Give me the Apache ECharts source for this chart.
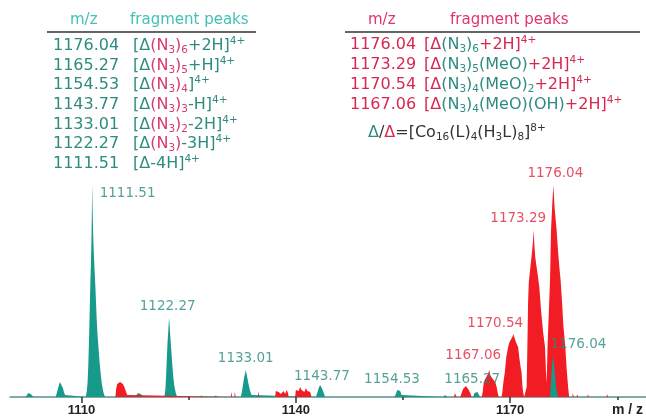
<!DOCTYPE html>
<html><head><meta charset="utf-8">
<script src="https://cdn.jsdelivr.net/npm/echarts@6/dist/echarts.min.js"></script>
<style>html,body{margin:0;padding:0;background:#fff}#c{width:646px;height:418px}</style>
</head><body><div id="c"></div>
<script>
// ---------- DATA ----------
const xTicks = [1110, 1140, 1170];
const xMinorTicks = [1125, 1155, 1185];

// teal spectrum [m/z, intensity]
const tealPeaks = [
 [1100,0],
 [1102.2,0],[1102.35,2],[1102.55,4],[1102.7,5],[1102.9,3],[1103.1,1],[1103.3,0],
 [1106.4,0],[1106.55,4],[1106.7,8],[1106.85,12],[1107.0,15],[1107.1,17],[1107.25,13],[1107.4,9],[1107.55,5],[1107.7,2],[1107.9,0],
 [1110.6,0],[1110.75,6],[1110.85,14],[1110.95,30],[1111.05,55],[1111.15,85],[1111.25,115],[1111.35,140],[1111.43,170],[1111.48,200],[1111.51,212],[1111.56,188],[1111.65,160],[1111.75,140],[1111.85,125],[1111.95,110],[1112.05,92],[1112.15,75],[1112.25,62],[1112.38,50],[1112.5,38],[1112.65,26],[1112.8,16],[1112.95,9],[1113.1,4],[1113.3,0],
 [1117.5,0],[1117.7,2],[1117.9,4],[1118.1,5],[1118.3,3],[1118.5,1],[1118.7,0],
 [1121.6,0],[1121.75,8],[1121.85,22],[1121.95,40],[1122.05,55],[1122.15,66],[1122.25,79],[1122.32,74],[1122.42,62],[1122.52,52],[1122.62,42],[1122.72,32],[1122.85,20],[1123.0,11],[1123.2,4],[1123.4,0],
 [1126.5,0],[1126.8,1.5],[1127.1,0],[1128.5,0],[1128.8,1.5],[1129.1,0],
 [1132.3,0],[1132.45,5],[1132.6,12],[1132.75,19],[1132.88,23],[1133.0,27],[1133.1,23],[1133.22,19],[1133.35,14],[1133.5,9],[1133.65,5],[1133.8,2],[1134.0,0],
 [1142.8,0],[1143.0,4],[1143.2,9],[1143.4,12],[1143.55,11],[1143.7,8],[1143.9,4],[1144.1,0],
 [1153.8,0],[1154.0,3],[1154.2,7],[1154.4,8],[1154.6,6],[1154.8,2],[1155.0,0],
 [1160.6,0],[1160.9,2],[1161.2,0],
 [1164.8,0],[1165.0,4],[1165.2,6],[1165.4,5],[1165.6,3],[1165.8,0],
 [1189,0]
];
// red spectrum
const redPeaks = [
 [1100,0],
 [1114.75,0],[1114.85,8],[1115.0,13],[1115.2,15],[1115.4,15],[1115.6,14],[1115.8,13],[1116.0,10],[1116.2,6],[1116.4,2],[1116.5,0],
 [1130.9,0],[1130.95,5],[1131.05,5],[1131.1,0],[1131.4,0],[1131.45,5],[1131.55,5],[1131.6,0],
 [1134.7,0],[1134.75,6],[1134.85,6],[1134.9,0],
 [1137.1,0],[1137.2,6],[1137.4,8],[1137.6,5],[1137.8,7],[1137.9,3],[1138.1,4],[1138.3,6],[1138.5,3],[1138.7,7],[1138.9,4],[1139.0,0],
 [1139.9,0],[1140.0,7],[1140.2,8],[1140.4,6],[1140.6,10],[1140.8,7],[1141.0,8],[1141.2,5],[1141.4,9],[1141.6,6],[1141.8,8],[1142.0,5],[1142.2,0],
 [1162.15,0],[1162.25,4],[1162.4,4],[1162.5,0],
 [1163.0,0],[1163.2,4],[1163.4,8],[1163.6,10],[1163.8,11],[1164.0,10],[1164.2,7],[1164.4,4],[1164.6,0],
 [1166.0,0],[1166.15,5],[1166.3,15],[1166.5,18],[1166.7,20],[1166.9,23],[1167.06,27],[1167.2,22],[1167.45,19],[1167.7,17],[1167.9,15],[1168.1,10],[1168.25,4],[1168.4,0],
 [1168.8,0],[1168.9,5],[1169.05,15],[1169.25,25],[1169.45,40],[1169.7,50],[1169.9,55],[1170.1,57],[1170.3,60],[1170.45,63],[1170.54,65],[1170.65,58],[1170.85,54],[1171.1,50],[1171.3,38],[1171.45,30],[1171.58,25],[1171.7,12],[1171.8,5],[1171.95,0],
 [1172.2,0],[1172.3,10],[1172.4,50],[1172.5,95],[1172.6,115],[1172.75,125],[1172.9,135],[1173.05,145],[1173.18,155],[1173.29,167],[1173.38,152],[1173.5,140],[1173.65,132],[1173.85,122],[1174.07,110],[1174.3,88],[1174.6,65],[1174.87,50],[1175.0,25],[1175.1,14],
 [1175.22,50],[1175.4,85],[1175.57,117],[1175.71,167],[1175.9,195],[1176.04,212],[1176.2,190],[1176.35,178],[1176.49,167],[1176.7,145],[1176.9,128],[1177.05,117],[1177.25,95],[1177.45,70],[1177.71,50],[1177.9,28],[1178.1,10],[1178.25,0],
 [1178.7,0],[1178.75,4],[1178.85,4],[1178.9,0],[1179.3,0],[1179.35,3],[1179.45,3],[1179.5,0],[1180.8,0],[1180.85,3],[1180.95,3],[1181.0,0],[1183.5,0],[1183.55,3],[1183.65,3],[1183.7,0],
 [1189,0]
];
// teal component visible inside the 1176.04 red envelope
const tealOverlay = [
 [1175.55,0],[1175.7,15],[1175.85,32],[1176.0,40],[1176.1,36],[1176.25,24],[1176.4,12],[1176.55,4],[1176.7,0]
];

const tealLabelText = ['1111.51','1122.27','1133.01','1143.77','1154.53','1165.27','1176.04'];
const redLabelText  = ['1167.06','1170.54','1173.29','1176.04'];

const leftMz = ['1176.04','1165.27','1154.53','1143.77','1133.01','1122.27','1111.51'];
const leftFormula = [
 [['t','[Δ'],['p','(N'],['ps','3'],['p',')'],['ps','6'],['t','+2H]'],['tu','4+']],
 [['t','[Δ'],['p','(N'],['ps','3'],['p',')'],['ps','5'],['t','+H]'],['tu','4+']],
 [['t','[Δ'],['p','(N'],['ps','3'],['p',')'],['ps','4'],['t',']'],['tu','4+']],
 [['t','[Δ'],['p','(N'],['ps','3'],['p',')'],['ps','3'],['t','-H]'],['tu','4+']],
 [['t','[Δ'],['p','(N'],['ps','3'],['p',')'],['ps','2'],['t','-2H]'],['tu','4+']],
 [['t','[Δ'],['p','(N'],['ps','3'],['p',')'],['t','-3H]'],['tu','4+']],
 [['t','[Δ-4H]'],['tu','4+']]
];
const rightMz = ['1176.04','1173.29','1170.54','1167.06'];
const rightFormula = [
 [['r','[Δ'],['g','(N'],['gs','3'],['g',')'],['gs','6'],['r','+2H]'],['ru','4+']],
 [['r','[Δ'],['g','(N'],['gs','3'],['g',')'],['gs','5'],['g','(MeO)'],['r','+2H]'],['ru','4+']],
 [['r','[Δ'],['g','(N'],['gs','3'],['g',')'],['gs','4'],['g','(MeO)'],['gs','2'],['r','+2H]'],['ru','4+']],
 [['r','[Δ'],['g','(N'],['gs','3'],['g',')'],['gs','4'],['g','(MeO)(OH)'],['r','+2H]'],['ru','4+']]
];
const compoundFormula = [['g','Δ'],['k','/'],['r','Δ'],['k','=[Co'],['ks','16'],['k','(L)'],['ks','4'],['k','(H'],['ks','3'],['k','L)'],['ks','8'],['k',']'],['ku','8+']];

// ---------- LAYOUT / STYLE ----------
const C = {
  tealFill:'#17998b', redFill:'#f21c24',
  tealLabel:'#2b8a80', redLabel:'#e0243c',
  tTeal:'#2e8b80', tTealHead:'#44c1b5', tPink:'#d63a6e',
  tRed:'#d92850', tRedHead:'#e0346a', dark:'#333'
};
const FF = '"DejaVu Sans", Verdana, sans-serif';
const tealLabelAnchor = [[1116.45,204],[1122.06,91],[1132.99,39],[1143.65,21],[1153.46,18],[1164.68,18],[1179.54,53]];
const redLabelAnchor  = [[1164.82,42],[1167.9,74],[1171.12,179],[1176.31,224]];

function mkRich(){
  const r = {};
  const add = (k,fill,size,lh,va)=>{ r[k]={fill,fontSize:size,lineHeight:lh,verticalAlign:va,fontFamily:FF}; };
  add('t',C.tTeal,16,20,'middle'); add('p',C.tPink,16,20,'middle');
  add('ps',C.tPink,10.5,14,'bottom'); add('tu',C.tTeal,10.5,13,'top');
  add('r',C.tRed,16,20,'middle'); add('g',C.tTeal,16,20,'middle');
  add('gs',C.tTeal,10.5,14,'bottom'); add('ru',C.tRed,10.5,13,'top');
  add('k',C.dark,16,20,'middle'); add('ks',C.dark,10.5,14,'bottom'); add('ku',C.dark,10.5,13,'top');
  return r;
}
const RICH = mkRich();
const segStr = segs => segs.map(s=>'{'+s[0]+'|'+s[1]+'}').join('');

const graphics = [];
function txt(x,y,text,color,size){
  graphics.push({type:'text',x,y,silent:true,style:{text,fill:color,font:`${size}px ${FF}`,verticalAlign:'middle',textAlign:'left'}});
}
function rtxt(x,y,segs){
  graphics.push({type:'text',x,y,silent:true,style:{text:segStr(segs),rich:RICH,verticalAlign:'middle',font:`16px ${FF}`}});
}
// left table
txt(70,20,'m/z',C.tTealHead,15); txt(130,20,'fragment peaks',C.tTealHead,15);
graphics.push({type:'line',silent:true,shape:{x1:47,y1:32,x2:256,y2:32},style:{stroke:'#666',lineWidth:2}});
leftMz.forEach((m,i)=>{ const y = 46 + i*19.6; txt(53,y,m,C.tTeal,16); rtxt(133,y,leftFormula[i]); });
// right table
txt(368,20,'m/z',C.tRedHead,15); txt(450,20,'fragment peaks',C.tRedHead,15);
graphics.push({type:'line',silent:true,shape:{x1:345,y1:32,x2:640,y2:32},style:{stroke:'#666',lineWidth:2}});
rightMz.forEach((m,i)=>{ const y = 45 + i*19.8; txt(350,y,m,C.tRed,16); rtxt(424,y,rightFormula[i]); });
rtxt(368,133,compoundFormula);
// axis title
graphics.push({type:'text',x:612,y:410,silent:true,style:{text:'m / z',fill:'#222',font:`bold 14px "Liberation Sans", Arial, sans-serif`,verticalAlign:'middle'}});

const chart = echarts.init(document.getElementById('c'), null, {renderer:'canvas'});
const areaSeries = (data,color,z)=>({type:'line',data,symbol:'none',z,animation:false,silent:true,
  lineStyle:{width:0,color},areaStyle:{color,opacity:1},xAxisIndex:0});
const labelSeries = (texts,anchors,color)=>({type:'scatter',symbolSize:0,z:10,animation:false,silent:true,
  data:texts.map((t,i)=>({value:anchors[i],name:t})),
  label:{show:true,position:'inside',formatter:'{b}',color,fontSize:13.5,fontFamily:FF}});

chart.setOption({
  animation:false,
  grid:{left:10,right:0,top:150,bottom:21},
  xAxis:[{
    type:'value',min:1100,max:1189,
    axisLine:{lineStyle:{color:'#5b8f8b',width:1.5}},
    axisTick:{customValues:xTicks,length:6,lineStyle:{color:'#333',width:1.5}},
    axisLabel:{customValues:xTicks,formatter:v=>String(v),color:'#222',fontWeight:'bold',fontSize:13,fontFamily:'"Liberation Sans", Arial, sans-serif',margin:7},
    splitLine:{show:false}
  },{
    type:'value',min:1100,max:1189,position:'bottom',
    axisLine:{show:false},
    axisTick:{customValues:xMinorTicks,length:3,lineStyle:{color:'#333',width:1.5}},
    axisLabel:{show:false},splitLine:{show:false}
  }],
  yAxis:{type:'value',min:0,max:247,show:false},
  series:[
    areaSeries(tealPeaks,C.tealFill,2),
    areaSeries(redPeaks,C.redFill,3),
    areaSeries(tealOverlay,C.tealFill,4),
    labelSeries(tealLabelText,tealLabelAnchor,C.tealLabel),
    labelSeries(redLabelText,redLabelAnchor,C.redLabel)
  ],
  graphic:graphics
});
</script></body></html>
